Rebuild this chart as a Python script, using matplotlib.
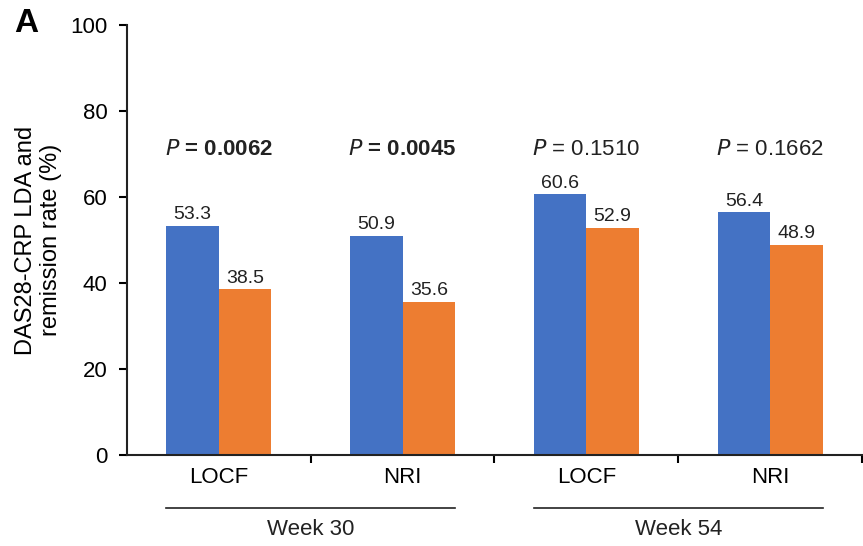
import matplotlib.pyplot as plt
import numpy as np

plt.rcParams['font.family'] = ['Liberation Sans', 'DejaVu Sans']

methods = ['LOCF', 'NRI', 'LOCF', 'NRI']
weeks = ['Week 30', 'Week 54']
blue_vals = [53.3, 50.9, 60.6, 56.4]
orange_vals = [38.5, 35.6, 52.9, 48.9]
p_labels = ['0.0062', '0.0045', '0.1510', '0.1662']
p_bold = [True, True, False, False]

blue = '#4472C4'
orange = '#ED7D31'

fig = plt.figure(figsize=(8.63, 5.46), dpi=100)
ax = fig.add_axes([0.147, 0.1667, 0.852, 0.7875])

x = np.arange(len(methods))
w = 0.285
b1 = ax.bar(x - w / 2, blue_vals, w, color=blue)
b2 = ax.bar(x + w / 2, orange_vals, w, color=orange)

for bars in (b1, b2):
    for rect in bars:
        h = rect.get_height()
        ax.annotate('%.1f' % h, (rect.get_x() + rect.get_width() / 2, h),
                    xytext=(0, 2), textcoords='offset points',
                    ha='center', va='bottom', fontsize=14, color='#222222')

# p-values above each pair
for i, p in enumerate(p_labels):
    if p_bold[i]:
        ax.text(x[i], 71, r'$\bf{\it{P}}$' + ' = ' + p, ha='center', va='center',
                fontsize=16, fontweight='bold', color='#222222')
    else:
        ax.text(x[i], 71, r'$\it{P}$' + ' = ' + p, ha='center', va='center',
                fontsize=16, color='#222222')

ax.set_xlim(-0.5, 3.5)
ax.set_ylim(0, 100)
ax.set_yticks([0, 20, 40, 60, 80, 100])
ax.set_xticks([0.5, 1.5, 2.5, 3.5])
ax.set_xticklabels([])
ax.set_xticks(x, minor=True)
ax.set_xticklabels(methods, minor=True)
ax.tick_params(axis='x', which='minor', length=0, pad=9, labelsize=16)
ax.tick_params(axis='x', which='major', length=6, width=1.5, direction='out')
ax.tick_params(axis='y', length=6, width=1.5, pad=8, labelsize=16)
for s in ['top', 'right']:
    ax.spines[s].set_visible(False)
for s in ['left', 'bottom']:
    ax.spines[s].set_linewidth(1.5)
    ax.spines[s].set_color('#222222')

ax.set_ylabel('DAS28-CRP LDA and\nremission rate (%)', fontsize=17, labelpad=6,
              linespacing=1.15)

# week group underlines and labels
trans = ax.get_xaxis_transform()
for g, wk in enumerate(weeks):
    lo = 2 * g - w
    hi = 2 * g + 1 + w
    ax.plot([lo, hi], [-0.123, -0.123], color='#222222', lw=1.2,
            transform=trans, clip_on=False)
    ax.text(2 * g + 0.5, -0.174, wk, transform=trans, ha='center', va='center',
            fontsize=16, color='#222222')

fig.text(0.016, 0.957, 'A', fontsize=24, fontweight='bold', va='center')

fig.savefig('out.png', dpi=100)
